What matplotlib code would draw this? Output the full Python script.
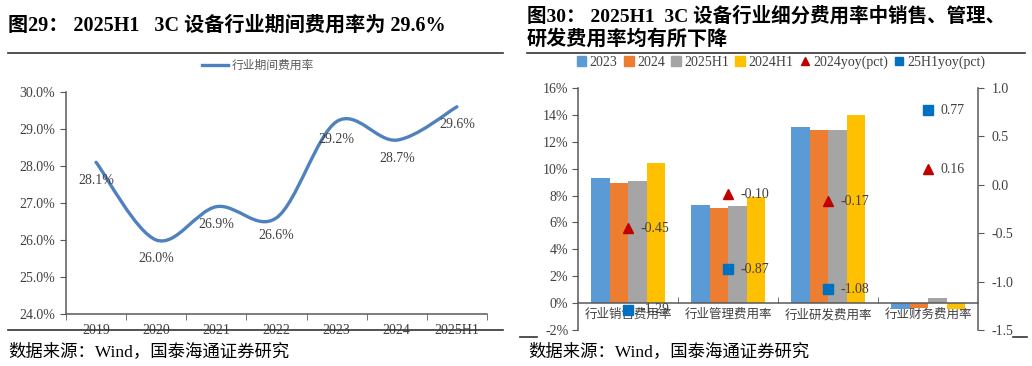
import numpy as np
import matplotlib
matplotlib.use('Agg')
import matplotlib.pyplot as plt
from matplotlib.path import Path
from matplotlib.patches import PathPatch, Patch
from matplotlib.lines import Line2D
from matplotlib.ticker import FormatStrFormatter, FixedLocator

plt.rcParams['font.family'] = ['Liberation Serif', 'Noto Sans CJK SC']

# 图29 数据
years = ['2019', '2020', '2021', '2022', '2023', '2024', '2025H1']
period_rate = [28.1, 26.0, 26.9, 26.6, 29.2, 28.7, 29.6]

# 图30 数据
categories = ['行业销售费用率', '行业管理费用率', '行业研发费用率', '行业财务费用率']
rate_2023 = [9.3, 7.3, 13.1, -0.45]
rate_2024 = [8.9, 7.1, 12.9, -0.35]
rate_25h1 = [9.1, 7.2, 12.9, 0.35]
rate_24h1 = [10.4, 7.9, 14.0, -0.45]
yoy_2024 = [-0.45, -0.10, -0.17, 0.16]
yoy_25h1 = [-1.29, -0.87, -1.08, 0.77]

bar_series = [('2023', rate_2023, '#5B9BD5'),
              ('2024', rate_2024, '#ED7D31'),
              ('2025H1', rate_25h1, '#A5A5A5'),
              ('2024H1', rate_24h1, '#FFC000')]

AXIS_COLOR = '#595959'
TEXT_COLOR = '#404040'
W, H = 1032, 366


def smooth_path(xs, ys):
    """ 类似 Excel 平滑线的贝塞尔路径 """
    pts = np.column_stack([xs, ys]).astype(float)
    ext = np.vstack([pts[0], pts, pts[-1]])
    verts = [pts[0]]
    codes = [Path.MOVETO]
    for i in range(len(pts) - 1):
        p0, p1, p2, p3 = ext[i], ext[i + 1], ext[i + 2], ext[i + 3]
        verts += [p1 + (p2 - p0) / 6, p2 - (p3 - p1) / 6, p2]
        codes += [Path.CURVE4] * 3
    return Path(verts, codes)


def hline(fig, x0, x1, y, color='#333333', lw=1.2):
    fig.add_artist(Line2D([x0 / W, x1 / W], [1 - y / H, 1 - y / H],
                          transform=fig.transFigure, color=color, lw=lw))


fig = plt.figure(figsize=(W / 100, H / 100), dpi=100)

# ---------- 左图 ----------
ax1 = fig.add_axes([66 / W, 1 - 314 / H, 421 / W, 222 / H])
x = np.arange(len(years))
line_color = '#4F81BD'
ax1.add_patch(PathPatch(smooth_path(x, period_rate), fill=False,
                        edgecolor=line_color, lw=2.4, capstyle='round'))
for xi, v in zip(x, period_rate):
    ax1.annotate(f'{v:.1f}%', (xi, v), xytext=(0, -13), textcoords='offset points',
                 ha='center', va='center', fontsize=10, color=TEXT_COLOR)
ax1.set_xlim(-0.5, len(years) - 0.5)
ax1.set_ylim(24, 30)
ax1.set_yticks(np.arange(24, 31, 1))
ax1.yaxis.set_major_formatter(FormatStrFormatter('%.1f%%'))
ax1.set_xticks(x)
ax1.set_xticklabels(years)
ax1.xaxis.set_minor_locator(FixedLocator(np.arange(-0.5, len(years), 1)))
ax1.tick_params(axis='x', which='major', length=0, pad=7, labelsize=10, labelcolor=TEXT_COLOR)
ax1.tick_params(axis='x', which='minor', length=4, direction='out', color=AXIS_COLOR)
ax1.tick_params(axis='y', length=4, direction='out', color=AXIS_COLOR, pad=4,
                labelsize=10, labelcolor=TEXT_COLOR)
for s in ['top', 'right']:
    ax1.spines[s].set_visible(False)
for s in ['left', 'bottom']:
    ax1.spines[s].set_color(AXIS_COLOR)
    ax1.spines[s].set_linewidth(1.1)

fig.legend([Line2D([], [], color=line_color, lw=2.4)], ['行业期间费用率'],
           loc='center', bbox_to_anchor=(258 / W, 1 - 66 / H), frameon=False,
           fontsize=8.5, handlelength=2.2, handletextpad=0.3, labelcolor=AXIS_COLOR)

# ---------- 右图 ----------
ax2 = fig.add_axes([578 / W, 1 - 330 / H, 400 / W, 242 / H])
gx = np.arange(len(categories))
bw = 0.185
for k, (name, vals, color) in enumerate(bar_series):
    ax2.bar(gx + (k - 1.5) * bw, vals, width=bw, color=color, zorder=2)
ax2.set_xlim(-0.5, len(categories) - 0.5)
ax2.set_ylim(-2, 16)
ax2.set_yticks(np.arange(-2, 17, 2))
ax2.yaxis.set_major_formatter(FormatStrFormatter('%d%%'))
ax2.spines['bottom'].set_position(('data', 0))
ax2.set_xticks(gx)
ax2.set_xticklabels(categories)
ax2.xaxis.set_minor_locator(FixedLocator(np.arange(0.5, len(categories) - 0.5, 1)))
ax2.tick_params(axis='x', which='major', length=0, pad=4, labelsize=9, labelcolor=TEXT_COLOR)
ax2.tick_params(axis='x', which='minor', length=4, direction='in', color=AXIS_COLOR)
ax2.tick_params(axis='y', length=4, direction='out', color=AXIS_COLOR, pad=3,
                labelsize=10, labelcolor=TEXT_COLOR)
for s in ['top', 'right']:
    ax2.spines[s].set_visible(False)
for s in ['left', 'bottom']:
    ax2.spines[s].set_color(AXIS_COLOR)
    ax2.spines[s].set_linewidth(1.1)

ax3 = ax2.twinx()
ax3.set_ylim(-1.5, 1.0)
ax3.set_yticks(np.arange(-1.5, 1.01, 0.5))
ax3.yaxis.set_major_formatter(FormatStrFormatter('%.1f'))
ax3.tick_params(axis='y', length=4, direction='out', color=AXIS_COLOR, pad=6,
                labelsize=10, labelcolor=TEXT_COLOR)
for s in ['top', 'left', 'bottom']:
    ax3.spines[s].set_visible(False)
ax3.spines['right'].set_color(AXIS_COLOR)
ax3.spines['right'].set_linewidth(1.1)

ax3.plot(gx, yoy_2024, ls='none', marker='^', ms=7, color='#C00000')
ax3.plot(gx, yoy_25h1, ls='none', marker='s', ms=6.5, color='#0070C0')
for xi, v in zip(gx, yoy_2024):
    ax3.annotate(f'{v:.2f}', (xi, v), xytext=(9, 0), textcoords='offset points',
                 ha='left', va='center', fontsize=10, color=TEXT_COLOR)
for xi, v in zip(gx, yoy_25h1):
    ax3.annotate(f'{v:.2f}', (xi, v), xytext=(9, 0), textcoords='offset points',
                 ha='left', va='center', fontsize=10, color=TEXT_COLOR)

handles = [Patch(color=c) for _, _, c in bar_series]
handles += [Line2D([], [], ls='none', marker='^', ms=6, color='#C00000'),
            Line2D([], [], ls='none', marker='s', ms=5.5, color='#0070C0')]
labels = [n for n, _, _ in bar_series] + ['2024yoy(pct)', '25H1yoy(pct)']
fig.legend(handles, labels, loc='center', bbox_to_anchor=(781 / W, 1 - 62 / H), ncol=6,
           frameon=False, fontsize=10, handlelength=0.7, handleheight=0.7,
           handletextpad=0.25, columnspacing=0.45, borderaxespad=0, labelcolor=TEXT_COLOR)

# ---------- 标题、分隔线、来源 ----------
fig.text(8 / W, 1 - 26 / H, '图29： 2025H1   3C 设备行业期间费用率为 29.6%',
         fontsize=14.5, fontweight='bold', va='center')
fig.text(527 / W, 1 - 16 / H, '图30： 2025H1  3C 设备行业细分费用率中销售、管理、',
         fontsize=14, fontweight='bold', va='center')
fig.text(527 / W, 1 - 40 / H, '研发费用率均有所下降',
         fontsize=14.5, fontweight='bold', va='center')

hline(fig, 8, 503, 53)
hline(fig, 8, 503, 330)
hline(fig, 527, 1025, 53)
hline(fig, 520, 537, 337)
hline(fig, 1013, 1027, 337)

fig.text(8 / W, 1 - 352 / H, '数据来源：Wind，国泰海通证券研究', fontsize=12.5, va='center')
fig.text(528 / W, 1 - 352 / H, '数据来源：Wind，国泰海通证券研究', fontsize=12.5, va='center')

fig.savefig('out.png', dpi=100)
